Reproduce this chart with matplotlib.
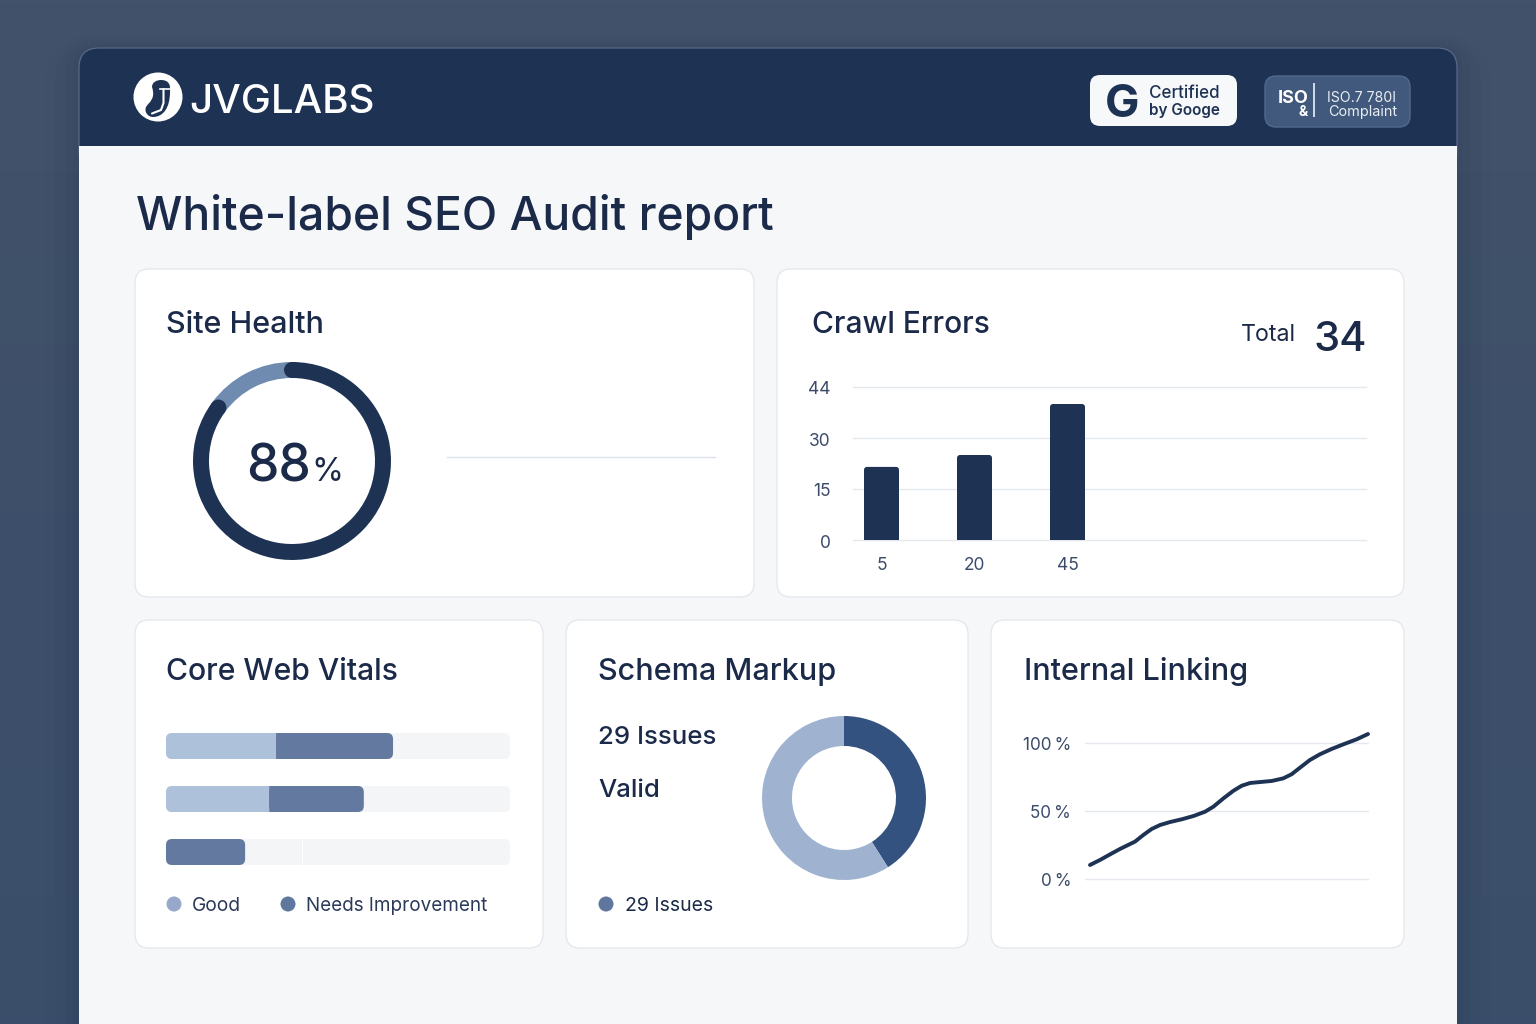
import math
import numpy as np
import matplotlib
matplotlib.use("Agg")
import matplotlib.pyplot as plt
from matplotlib.patches import FancyBboxPatch, Circle, PathPatch, Rectangle
from matplotlib.path import Path
from matplotlib.transforms import ScaledTranslation

# datos
health_parts = [85, 15]
health_label = "88"

crawl_days = ["5", "20", "45"]
crawl_values = [21.5, 25, 40]
crawl_ticks = [0, 15, 30, 45]
crawl_tick_labels = ["0", "15", "30", "44"]
crawl_total = "34"

vitals_good = [32, 30, 0]
vitals_needs = [34, 27.5, 23]

schema_parts = [41, 59]

link_x = [0, 3.6, 7.2, 10.8, 16.2, 19.2, 22.2, 25.2, 28.8, 33, 37.2, 41.4, 44.4, 48, 51.6, 54.6, 57.6, 61.2,
          65.4, 69.5, 72.5, 75.5, 79.1, 82.7, 86.9, 91.1, 95.9, 100]
link_y = [10.3, 14, 18.1, 22.1, 27.5, 32.4, 36.8, 39.7, 41.9, 43.9, 46.3, 49.5, 53.2, 59.3, 64.9, 68.6, 70.6, 71.3,
          72.1, 74, 77, 81.8, 87.5, 91.7, 95.6, 99, 102.7, 106.6]
link_ticks = [0, 50, 100]
link_tick_labels = ["0\u2009%", "50\u2009%", "100\u2009%"]

NAVY = "#1e3354"
TEXT = "#1b2a49"
TICK = "#3c4b69"
GRID = "#e5e8ed"
BORDER = "#e3e6ec"
LIGHT_BAR = "#aec1da"
MID_BAR = "#64799f"
TRACK = "#f3f5f7"

W, H = 1536, 1024
plt.rcParams["font.family"] = ["Inter", "DejaVu Sans"]

fig = plt.figure(figsize=(15.36, 10.24), dpi=100)
bg = fig.add_axes([0, 0, 1, 1])


def sub_axes(x0, y0, x1, y1):
    # ejes a partir de pixeles de la imagen
    ax = fig.add_axes([x0 / W, 1 - y1 / H, (x1 - x0) / W, (y1 - y0) / H])
    ax.patch.set_alpha(0)
    return ax


def box(x0, y0, x1, y1, r, fc, ec="none", lw=1, z=2, alpha=None):
    p = FancyBboxPatch((x0, y0), x1 - x0, y1 - y0, boxstyle=f"round,pad=0,rounding_size={r}",
                       fc=fc, ec=ec, lw=lw, zorder=z, alpha=alpha)
    bg.add_patch(p)
    return p


def label(x, y, s, size, color=TEXT, weight="normal", ha="left", z=5, **kw):
    bg.text(x, y, s, fontsize=size, color=color, fontweight=weight, ha=ha, va="baseline", zorder=z, **kw)


def nudge(labels, dy_px):
    # baja un poco las etiquetas de los ejes
    for t in labels:
        t.set_transform(t.get_transform() + ScaledTranslation(0, -dy_px / 100, fig.dpi_scale_trans))


# Fondo
grad = np.linspace(0, 1, 256).reshape(-1, 1)
cmap = matplotlib.colors.LinearSegmentedColormap.from_list("fondo", ["#425269", "#3e4f6a", "#3a4e6b"])
bg.imshow(grad, extent=(0, W, H, 0), aspect="auto", cmap=cmap, zorder=0)

# Sombra de la tarjeta
for grow, a in [(34, 0.025), (24, 0.03), (14, 0.04), (6, 0.05)]:
    box(79 - grow, 48 - grow * 0.4, 1457 + grow, 1100, 20 + grow, "#1c2c45", z=1, alpha=a)

# Tarjeta principal
box(79, 48, 1457, 170, 20, NAVY, ec="#56698a", lw=0.9, z=2)
bg.add_patch(Rectangle((79, 146), 1378, 900, fc="#f6f7f9", ec="none", zorder=3))

# Logo
bg.add_patch(Circle((158, 97), 24.5, fc="white", ec="none", zorder=4))
swoosh = Path([(152, 87), (152, 82), (157, 80), (161, 80), (168, 80), (171, 84), (170, 92),
               (170, 108), (163, 117), (153, 117), (148, 117), (144, 112), (146, 107),
               (149, 102), (156, 99), (152, 87)],
              [Path.MOVETO] + [Path.CURVE4] * 15)
bg.add_patch(PathPatch(swoosh, fc=NAVY, ec="none", zorder=5))
bg.plot([160, 170], [89, 89], color="white", lw=1.2, zorder=6)
bg.plot([163.5, 163.5, 161, 152], [89, 103, 110, 113.5], color="white", lw=1.5, zorder=6, solid_capstyle="round")
label(189, 113, "JVGLABS", 29, color="white", weight="medium")

# Insignias
box(1090, 75, 1237, 126, 10, "#f7f8fa")
label(1122, 117, "G", 33, color=NAVY, weight="bold", ha="center")
label(1149, 98, "Certified", 12.3, color=NAVY, weight="medium")
label(1149, 115, "by Googe", 11, color=NAVY, weight="semibold")

box(1265, 76, 1410, 127, 11, "#41597c", ec="#536a8c")
label(1278, 103, "ISO", 13, color="white", weight="bold")
label(1303, 116, "&", 10, color="white", weight="bold", ha="center")
bg.plot([1314, 1314], [84, 116], color="#d5dce6", lw=1.4, zorder=5)
label(1327, 102, "ISO.7 780I", 10.2, color="#e8edf3")
label(1328, 116, "Complaint", 10.4, color="#e8edf3")

label(136, 230, "White-label SEO Audit report", 33.3, weight="medium")

# Tarjetas
for x0, y0, x1, y1 in [(135, 269, 754, 597), (777, 269, 1404, 597), (135, 620, 543, 948),
                       (566, 620, 968, 948), (991, 620, 1404, 948)]:
    box(x0, y0, x1, y1, 14, "white", ec=BORDER, lw=0.9, z=4)

label(166, 333, "Site Health", 22, weight="medium")
label(812, 333, "Crawl Errors", 21.6, weight="medium")
label(166, 680, "Core Web Vitals", 21.7, weight="medium")
label(598, 680, "Schema Markup", 22, weight="medium")
label(1024, 680, "Internal Linking", 22, weight="medium")

# Site Health
ax = sub_axes(193, 362, 391, 560)
wedges, _ = ax.pie(health_parts, colors=[NAVY, "#708bb0"], startangle=90, counterclock=False,
                   radius=1, wedgeprops=dict(width=16 / 99, ec="none"))
for ang in (wedges[0].theta1, wedges[0].theta2):
    mid = 1 - 8 / 99
    ax.add_patch(Circle((mid * math.cos(math.radians(ang)), mid * math.sin(math.radians(ang))), 8 / 99, fc=NAVY, ec="none"))
ax.set_xlim(-1, 1)
ax.set_ylim(-1, 1)
label(246, 481, health_label, 37, weight="medium")
label(311, 481, "%", 23.5)
bg.plot([447, 715], [457, 457], color="#dde1e7", lw=1, zorder=5)

# Crawl Errors
label(1241, 341, "Total", 16.7)
label(1313, 351, crawl_total, 30, weight="medium")
ax = sub_axes(853, 387, 1366, 540)
ax.set_yticks(crawl_ticks, crawl_tick_labels)
ax.set_xticks(range(len(crawl_days)), crawl_days)
ax.tick_params(axis="y", length=0, pad=16, labelsize=12.5, labelcolor=TICK)
ax.tick_params(axis="x", length=0, pad=12, labelsize=12.5, labelcolor=TICK)
ax.grid(axis="y", color=GRID, lw=1)
for gl in ax.get_ygridlines():
    gl.set_clip_on(False)
ax.set_axisbelow(True)
for s in ax.spines.values():
    s.set_visible(False)
px_x = 1 / 93
px_y = 45 / 153
bw = 35 * px_x
for i, v in enumerate(crawl_values):
    ax.add_patch(FancyBboxPatch((i - bw / 2, 0), bw, v, boxstyle=f"round,pad=0,rounding_size={3 * px_x}",
                                mutation_aspect=px_y / px_x, fc=NAVY, ec="none", zorder=3, snap=False))
    ax.bar(i, v / 2, width=bw, color=NAVY, zorder=3, snap=False)
ax.set_xlim(-28.5 / 93, (1366 - 881.5) / 93)
ax.set_ylim(0, 45)
nudge(ax.get_yticklabels(), 1)

# Core Web Vitals
ax = sub_axes(166, 725, 510, 875)
ax.axis("off")
bh = 26 / 53
unit_x = 100 / 344
unit_y = 1 / 53


def pill(axis, x, y, w, color, z):
    axis.add_patch(FancyBboxPatch((x, y - bh / 2), w, bh, boxstyle=f"round,pad=0,rounding_size={6 * unit_x}",
                                  mutation_aspect=unit_y / unit_x, fc=color, ec="none", zorder=z, snap=False))


for row, (good, needs) in enumerate(zip(vitals_good, vitals_needs)):
    pill(ax, 0, row, 100, TRACK, 1)
    if good > 0:
        pill(ax, 0, row, good, LIGHT_BAR, 2)
        ax.barh(row, good / 2, left=good / 2, height=bh, color=LIGHT_BAR, zorder=2, snap=False)
        ax.barh(row, needs / 2, left=good, height=bh, color=MID_BAR, zorder=3, snap=False)
    pill(ax, good, row, needs, MID_BAR, 3)
ax.vlines(39.6, 2 - bh / 2, 2 + bh / 2, color="white", lw=0.8, zorder=2)
ax.set_xlim(0, 100)
ax.set_ylim(2 + 23 / 53, -21 / 53)

bg.add_patch(Circle((174, 904), 7.5, fc="#97a9ca", ec="none", zorder=5))
bg.add_patch(Circle((288, 904), 7.5, fc="#5f779f", ec="none", zorder=5))
label(192, 911, "Good", 13.8, color="#2b3a5a")
label(306, 911, "Needs Improvement", 13.6, color="#2b3a5a")

# Schema Markup
label(598, 744, "29 Issues", 18.6, weight="medium")
label(598, 797, "Valid", 18.5, weight="medium")
bg.add_patch(Circle((606, 904), 7.5, fc="#5f779f", ec="none", zorder=5))
label(625, 911, "29 Issues", 14)
ax = sub_axes(762, 716, 926, 880)
ax.pie(schema_parts, colors=["#34527f", "#9fb2d0"], startangle=90, counterclock=False,
       radius=1, wedgeprops=dict(width=30 / 82, ec="none"))
ax.set_xlim(-1, 1)
ax.set_ylim(-1, 1)

# Internal Linking
ax = sub_axes(1085, 743, 1368, 879)
ax.set_yticks(link_ticks, link_tick_labels)
ax.set_xticks([])
ax.tick_params(axis="y", length=0, pad=10, labelsize=12.3, labelcolor=TICK)
ax.grid(axis="y", color=GRID, lw=1)
for gl in ax.get_ygridlines():
    gl.set_clip_on(False)
ax.set_axisbelow(True)
for s in ax.spines.values():
    s.set_visible(False)
ax.plot(link_x, link_y, color=NAVY, lw=2.8, clip_on=False, solid_capstyle="round", solid_joinstyle="round", zorder=3)
ax.set_xlim(-1.8, 100)
ax.set_ylim(0, 100)
nudge(ax.get_yticklabels(), 1)

bg.set_xlim(0, W)
bg.set_ylim(H, 0)
bg.axis("off")

fig.savefig("out.png", dpi=100)
